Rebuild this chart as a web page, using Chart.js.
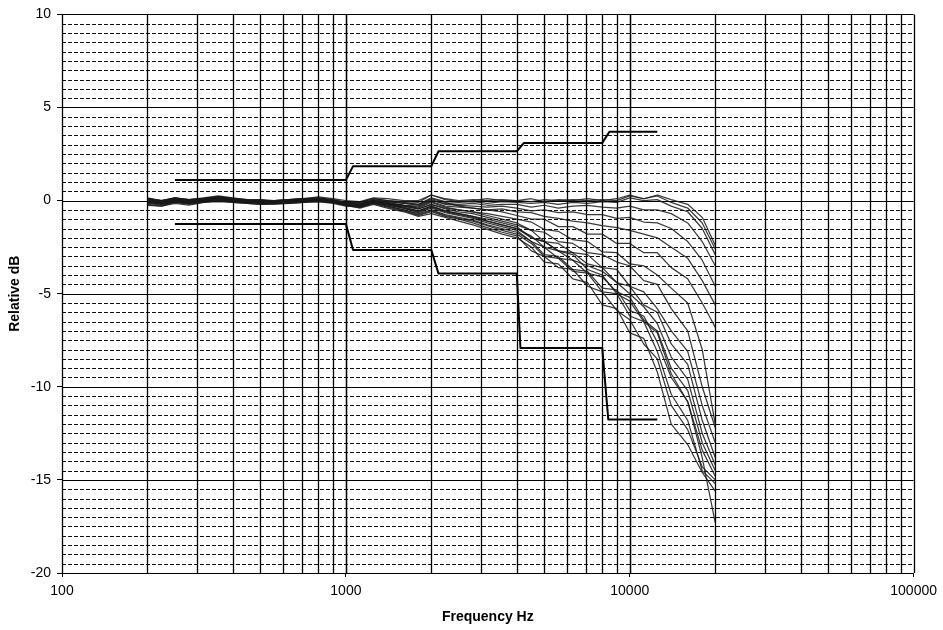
<!DOCTYPE html>
<html>
<head>
<meta charset="utf-8">
<script src="https://cdn.jsdelivr.net/npm/chart.js@4.4.1/dist/chart.umd.min.js"></script>
<style>
  html, body { margin: 0; padding: 0; background: #ffffff; }
  #wrap { width: 943px; height: 630px; }
</style>
</head>
<body>
<div id="wrap"><canvas id="c" width="943" height="630"></canvas></div>
<script>
// ---- data ----
const freqs = [200, 224, 250, 280, 315, 355, 400, 450, 500, 560, 630, 710, 800, 900, 1000, 1120, 1250, 1400, 1600, 1800, 2000, 2240, 2500, 2800, 3150, 3550, 4000, 4500, 5000, 5600, 6300, 7100, 8000, 9000, 10000, 11200, 12500, 14000, 16000, 18000, 20000];

const curve1  = [0.15, 0.0, 0.15, 0.05, 0.15, 0.25, 0.15, 0.05, 0.05, 0.0, 0.05, 0.1, 0.2, 0.1, 0.0, -0.05, 0.15, 0.1, 0.0, 0.0, 0.3, 0.1, 0.0, 0.05, 0.0, 0.05, 0.0, 0.1, -0.05, 0.05, 0.0, 0.1, 0.0, 0.1, 0.3, 0.1, 0.3, 0.05, -0.2, -0.9, -2.4];
const curve2  = [0.0, -0.1, 0.05, -0.05, 0.1, 0.15, 0.05, 0.0, -0.05, 0.0, 0.0, 0.1, 0.1, 0.05, -0.1, -0.1, 0.1, 0.0, -0.05, -0.1, 0.3, 0.05, -0.05, 0.0, 0.1, 0.0, 0.0, -0.05, 0.05, 0.0, 0.05, 0.0, 0.05, 0.0, 0.25, 0.1, 0.25, -0.1, -0.4, -1.2, -2.6];
const curve3  = [-0.1, -0.15, -0.05, -0.1, 0.0, 0.05, 0.0, -0.05, -0.1, -0.05, -0.05, 0.0, 0.05, 0.0, -0.15, -0.2, 0.0, -0.05, -0.15, -0.2, 0.15, -0.05, -0.1, -0.05, -0.15, -0.05, -0.1, -0.15, -0.1, -0.2, -0.1, -0.15, -0.05, -0.1, 0.15, 0.0, 0.05, -0.3, -0.6, -1.5, -2.9];
const curve4  = [-0.25, -0.3, -0.15, -0.25, -0.1, -0.05, -0.1, -0.15, -0.2, -0.15, -0.15, -0.1, -0.05, -0.1, -0.25, -0.3, -0.05, -0.15, -0.25, -0.3, 0.0, -0.15, -0.2, -0.15, -0.25, -0.2, -0.2, -0.35, -0.25, -0.4, -0.3, -0.25, -0.35, -0.4, -0.3, -0.5, -0.5, -0.7, -1.2, -2.2, -3.5];
const curve5  = [0.05, -0.05, 0.1, 0.0, 0.1, 0.15, 0.1, 0.0, 0.0, -0.05, 0.0, 0.05, 0.1, 0.0, -0.1, -0.15, 0.05, -0.05, -0.15, -0.25, 0.05, -0.2, -0.25, -0.3, -0.35, -0.3, -0.4, -0.55, -0.5, -0.65, -0.6, -0.75, -0.75, -0.95, -0.9, -1.15, -1.2, -1.5, -2.2, -3.2, -4.6];
const curve6  = [-0.05, -0.15, 0.0, -0.1, 0.0, 0.1, 0.0, -0.05, -0.1, -0.1, -0.05, 0.0, 0.05, -0.05, -0.2, -0.25, -0.05, -0.15, -0.25, -0.35, -0.05, -0.3, -0.35, -0.4, -0.5, -0.45, -0.6, -0.65, -0.85, -0.95, -1.1, -1.2, -1.35, -1.45, -1.6, -1.8, -2.0, -2.5, -3.1, -4.3, -5.6];
const curve7  = [0.1, 0.0, 0.15, 0.05, 0.1, 0.2, 0.1, 0.05, 0.0, 0.0, 0.05, 0.1, 0.15, 0.05, -0.1, -0.1, 0.1, 0.0, -0.1, -0.2, 0.1, -0.1, -0.3, -0.4, -0.5, -0.6, -0.8, -1.0, -1.0, -1.4, -1.4, -1.8, -1.8, -2.3, -2.3, -2.8, -2.8, -3.6, -4.2, -5.5, -6.8];
const curve8  = [-0.2, -0.3, -0.1, -0.2, -0.1, 0.0, -0.1, -0.15, -0.2, -0.2, -0.15, -0.1, -0.05, -0.15, -0.3, -0.35, -0.1, -0.2, -0.3, -0.45, -0.2, -0.4, -0.5, -0.6, -0.7, -0.85, -1.0, -1.15, -1.55, -1.65, -2.1, -2.2, -2.75, -2.8, -3.4, -3.5, -4.0, -4.7, -5.5, -8.0, -12.0];
const curve9  = [0.0, -0.1, 0.05, -0.05, 0.05, 0.1, 0.05, 0.0, -0.05, -0.05, 0.0, 0.05, 0.1, 0.0, -0.15, -0.2, 0.0, -0.1, -0.25, -0.4, -0.1, -0.35, -0.5, -0.6, -0.8, -1.0, -1.2, -1.6, -1.7, -2.2, -2.3, -2.8, -2.9, -3.3, -3.5, -4.3, -4.5, -5.8, -7.0, -10.0, -12.2];
const curve10 = [0.1, -0.05, 0.15, 0.0, 0.1, 0.2, 0.1, 0.0, 0.05, -0.05, 0.0, 0.05, 0.15, 0.0, -0.15, -0.2, 0.0, -0.15, -0.3, -0.45, -0.2, -0.45, -0.6, -0.7, -0.9, -1.1, -1.3, -1.6, -2.2, -2.3, -2.8, -2.9, -3.6, -3.7, -4.6, -4.9, -5.8, -7.0, -8.1, -11.0, -13.0];
const curve11 = [-0.1, -0.2, -0.05, -0.15, 0.0, 0.05, -0.05, -0.1, -0.1, -0.15, -0.1, -0.05, 0.0, -0.1, -0.25, -0.3, -0.1, -0.25, -0.4, -0.55, -0.3, -0.55, -0.7, -0.85, -1.0, -1.2, -1.4, -2.0, -2.2, -2.7, -2.8, -3.4, -3.6, -4.4, -4.6, -5.6, -6.0, -7.7, -8.8, -11.8, -13.8];
const curve12 = [0.0, -0.1, 0.05, -0.1, 0.05, 0.1, 0.0, -0.05, -0.05, -0.1, -0.05, 0.0, 0.05, -0.05, -0.2, -0.3, -0.05, -0.2, -0.4, -0.6, -0.35, -0.6, -0.75, -0.9, -1.1, -1.3, -1.5, -1.9, -2.5, -2.7, -3.2, -3.5, -3.8, -4.4, -5.0, -5.7, -6.6, -8.4, -9.6, -12.5, -14.2];
const curve13 = [0.1, 0.0, 0.1, 0.05, 0.1, 0.2, 0.1, 0.0, 0.0, 0.0, 0.05, 0.1, 0.1, 0.0, -0.15, -0.2, 0.0, -0.2, -0.4, -0.65, -0.4, -0.65, -0.8, -0.95, -1.2, -1.4, -1.6, -2.2, -2.5, -3.1, -3.2, -3.9, -4.1, -4.9, -5.2, -6.4, -7.0, -9.0, -10.2, -13.0, -14.5];
const curve14 = [-0.15, -0.25, -0.05, -0.15, -0.05, 0.05, -0.05, -0.1, -0.15, -0.15, -0.1, -0.05, 0.0, -0.1, -0.25, -0.3, -0.1, -0.3, -0.5, -0.7, -0.5, -0.75, -0.9, -1.05, -1.3, -1.5, -1.7, -2.2, -2.9, -3.0, -3.7, -3.8, -4.7, -4.8, -5.9, -6.2, -7.6, -9.5, -10.8, -13.4, -14.8];
const curve15 = [0.05, -0.05, 0.1, 0.0, 0.05, 0.15, 0.05, 0.0, -0.05, -0.05, 0.0, 0.05, 0.1, 0.0, -0.15, -0.25, -0.05, -0.2, -0.35, -0.55, -0.3, -0.55, -0.7, -0.85, -1.1, -1.3, -1.5, -2.0, -2.2, -2.7, -2.9, -3.7, -4.0, -5.0, -5.4, -6.5, -7.1, -9.3, -10.8, -13.8, -17.3];
const curve16 = [-0.1, -0.2, -0.05, -0.15, -0.05, 0.05, -0.05, -0.1, -0.15, -0.15, -0.1, -0.05, 0.0, -0.1, -0.25, -0.35, -0.15, -0.3, -0.5, -0.75, -0.55, -0.8, -0.95, -1.1, -1.35, -1.6, -1.8, -2.3, -3.0, -3.1, -3.8, -3.9, -4.9, -5.0, -6.2, -6.5, -8.1, -10.4, -11.8, -14.5, -15.2];
const curve17 = [0.0, -0.1, 0.05, -0.05, 0.05, 0.1, 0.05, -0.05, -0.05, -0.1, -0.05, 0.05, 0.05, -0.05, -0.2, -0.35, -0.15, -0.35, -0.55, -0.8, -0.6, -0.85, -1.0, -1.2, -1.45, -1.7, -1.9, -2.7, -3.0, -3.6, -3.7, -4.6, -4.9, -5.9, -6.4, -7.7, -8.5, -11.0, -12.3, -14.3, -15.0];
const curve18 = [-0.05, -0.15, 0.0, -0.1, 0.0, 0.05, 0.0, -0.1, -0.1, -0.15, -0.1, 0.0, 0.0, -0.1, -0.25, -0.4, -0.2, -0.4, -0.6, -0.85, -0.7, -0.9, -1.1, -1.3, -1.55, -1.8, -2.0, -2.5, -3.3, -3.4, -4.2, -4.4, -5.6, -5.8, -7.1, -7.4, -9.2, -12.0, -13.1, -14.6, -15.6];

const upperLimitFreq = [250, 1000, 1060, 2000, 2120, 4000, 4240, 8000, 8480, 12500];
const upperLimitDb   = [1.1, 1.1, 1.85, 1.85, 2.65, 2.65, 3.1, 3.1, 3.7, 3.7];
const lowerLimitFreq = [250, 1000, 1060, 2000, 2120, 4000, 4120, 8000, 8400, 12500];
const lowerLimitDb   = [-1.25, -1.25, -2.65, -2.65, -3.92, -3.92, -7.92, -7.92, -11.75, -11.75];

const xTickValues = [100, 1000, 10000, 100000];
const yMajorTicks = [-20, -15, -10, -5, 0, 5, 10];

// ---- build ----
const curves = [curve1, curve2, curve3, curve4, curve5, curve6, curve7, curve8, curve9,
                curve10, curve11, curve12, curve13, curve14, curve15, curve16, curve17, curve18];
const toPts = (xs, ys) => xs.map((x, i) => ({ x: x, y: ys[i] })).filter(p => p.y !== undefined);

const datasets = curves.map((c, i) => ({
  label: 'Curve ' + (i + 1),
  data: toPts(freqs, c),
  borderColor: 'rgba(25,25,25,0.85)',
  borderWidth: 1.25,
  pointRadius: 0,
  tension: 0,
  fill: false
}));
datasets.push({ label: 'Upper limit', data: toPts(upperLimitFreq, upperLimitDb), borderColor: '#000', borderWidth: 2, pointRadius: 0, tension: 0, fill: false });
datasets.push({ label: 'Lower limit', data: toPts(lowerLimitFreq, lowerLimitDb), borderColor: '#000', borderWidth: 2, pointRadius: 0, tension: 0, fill: false });

const gridPlugin = {
  id: 'gridPlugin',
  beforeDraw(chart) {
    const ctx = chart.ctx;
    ctx.save();
    ctx.fillStyle = '#ffffff';
    ctx.fillRect(0, 0, chart.width, chart.height);
    ctx.restore();
  },
  beforeDatasetsDraw(chart) {
    const ctx = chart.ctx;
    const a = chart.chartArea;
    const xs = chart.scales.x, ys = chart.scales.y;
    ctx.save();
    // horizontal minor (dashed) lines every 0.5 dB
    for (let k = 0; k <= 60; k++) {
      if (k % 10 === 0) continue;
      const v = ys.min + k * 0.5;
      const py = Math.round(ys.getPixelForValue(v)) + 0.5;
      ctx.beginPath();
      ctx.setLineDash([4, 2]);
      ctx.strokeStyle = '#111';
      ctx.lineWidth = 1;
      ctx.moveTo(a.left, py);
      ctx.lineTo(a.right, py);
      ctx.stroke();
    }
    ctx.setLineDash([]);
    // horizontal major (solid) lines every 5 dB
    for (let k = 0; k <= 60; k += 10) {
      const v = ys.min + k * 0.5;
      const py = Math.round(ys.getPixelForValue(v)) + 0.5;
      ctx.beginPath();
      ctx.strokeStyle = '#000';
      ctx.lineWidth = 1.2;
      ctx.moveTo(a.left, py);
      ctx.lineTo(a.right, py);
      ctx.stroke();
    }
    // vertical lines at 1..9 x decade
    for (let d = 100; d < 100000; d *= 10) {
      for (let m = 1; m <= 10; m++) {
        const px = Math.round(xs.getPixelForValue(d * m)) + 0.5;
        ctx.beginPath();
        ctx.strokeStyle = '#000';
        ctx.lineWidth = 1.3;
        ctx.moveTo(px, a.top);
        ctx.lineTo(px, a.bottom);
        ctx.stroke();
      }
    }
    ctx.restore();
  }
};

Chart.defaults.font.family = '"Liberation Sans", Arial, sans-serif';
Chart.defaults.color = '#000';

new Chart(document.getElementById('c'), {
  type: 'line',
  data: { datasets: datasets },
  plugins: [gridPlugin],
  options: {
    responsive: false,
    animation: false,
    devicePixelRatio: 1,
    layout: { padding: { top: 12, right: 28, left: 0, bottom: 0 } },
    plugins: { legend: { display: false }, tooltip: { enabled: false } },
    elements: { line: { borderCapStyle: 'butt', borderJoinStyle: 'round' } },
    scales: {
      x: {
        type: 'logarithmic',
        min: 100,
        max: 100000,
        afterBuildTicks: (s) => { s.ticks = xTickValues.map(v => ({ value: v })); },
        afterFit: (s) => { s.height = 57; },
        ticks: {
          autoSkip: false,
          maxRotation: 0,
          padding: 6,
          font: { size: 14 },
          callback: (v) => String(v)
        },
        grid: { drawOnChartArea: false, drawTicks: true, tickLength: 4, color: '#000' },
        border: { display: false },
        title: { display: true, text: 'Frequency Hz', font: { size: 14, weight: 'bold' }, padding: { top: 8, bottom: 4 } }
      },
      y: {
        type: 'linear',
        min: -20,
        max: 10,
        afterBuildTicks: (s) => { s.ticks = yMajorTicks.map(v => ({ value: v })); },
        afterFit: (s) => { s.width = 62; },
        ticks: { padding: 6, font: { size: 14 }, callback: (v) => String(v) },
        grid: { drawOnChartArea: false, drawTicks: true, tickLength: 5, color: '#000' },
        border: { display: false },
        title: { display: true, text: 'Relative dB', font: { size: 14, weight: 'bold' }, padding: { top: 7, bottom: 0 } }
      }
    }
  }
});
</script>
</body>
</html>
